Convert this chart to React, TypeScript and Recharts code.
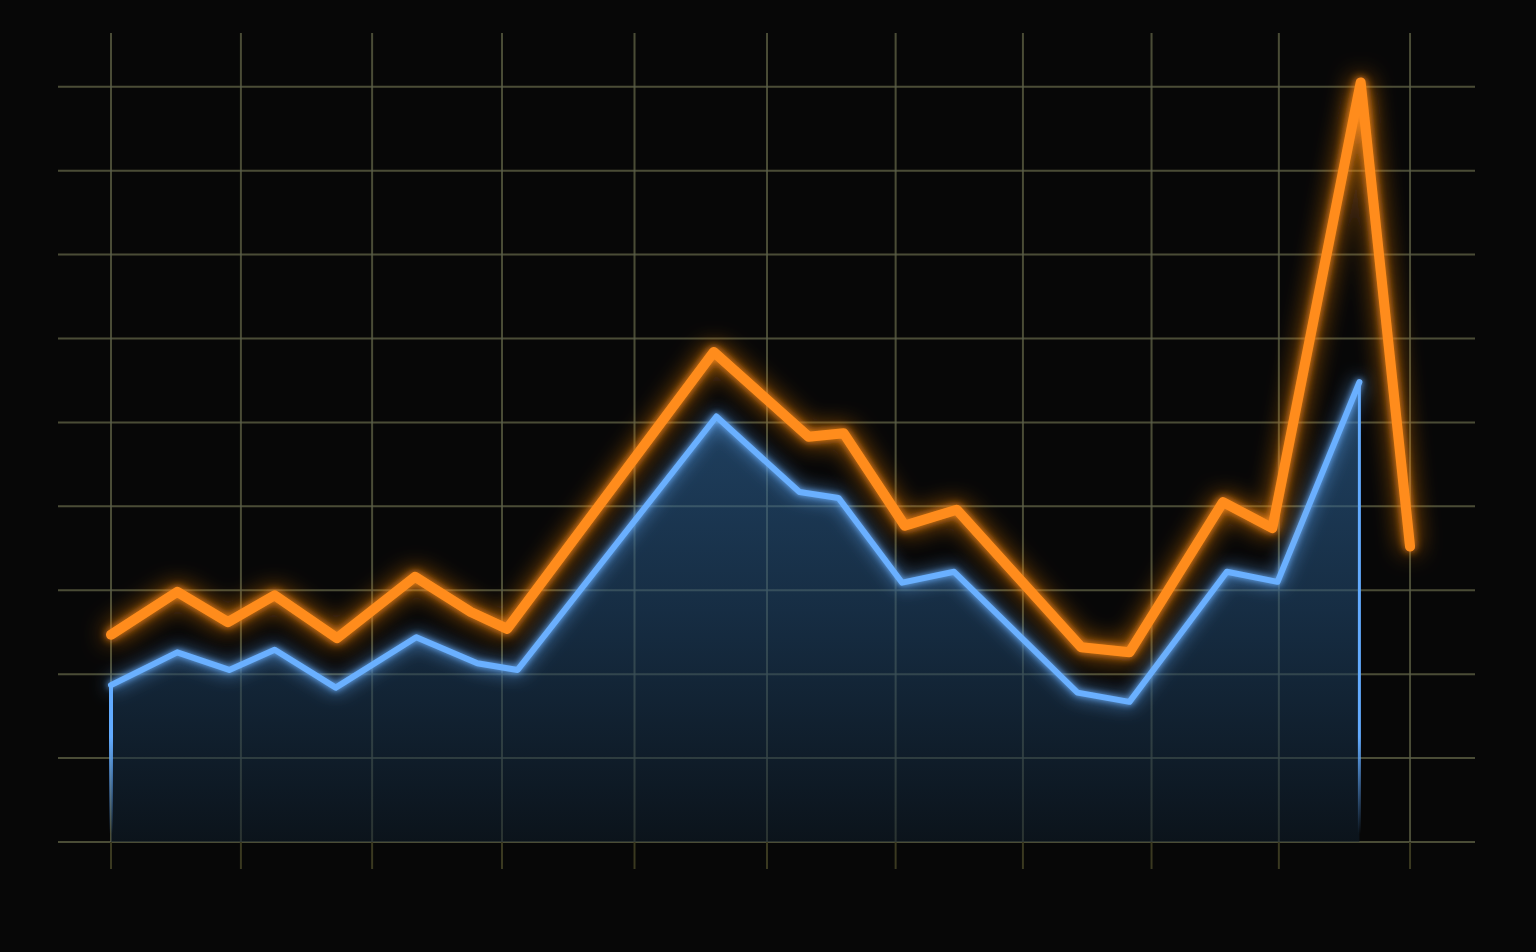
import React from 'react';
import { ComposedChart, Area, Line, XAxis, YAxis, CartesianGrid, ReferenceLine } from 'recharts';

// orange series (x position, value)
const orangeX = [0, 0.51, 0.9, 1.26, 1.74, 2.34, 2.77, 3.05, 4.64, 5.37, 5.64, 6.11, 6.51, 7.47, 7.84, 8.56, 8.94, 9.62, 10];
const orangeY = [2.47, 2.98, 2.62, 2.94, 2.43, 3.16, 2.74, 2.54, 5.84, 4.83, 4.87, 3.77, 3.96, 2.32, 2.26, 4.05, 3.74, 9.05, 3.52];

// blue series (x position, value)
const blueX = [0, 0.51, 0.91, 1.26, 1.73, 2.35, 2.82, 3.13, 4.66, 5.3, 5.6, 6.09, 6.49, 7.44, 7.84, 8.59, 8.98, 9.61];
const blueY = [1.87, 2.26, 2.05, 2.29, 1.84, 2.44, 2.13, 2.05, 5.07, 4.17, 4.1, 3.09, 3.22, 1.78, 1.67, 3.22, 3.1, 5.48];

const xTicks = [0, 1, 2.01, 3.01, 4.03, 5.05, 6.04, 7.02, 8.01, 8.99, 10];
const yTicks = [0, 1, 2, 3, 4, 5, 6, 7, 8, 9];

const orange = orangeX.map((x, i) => ({ x, v: orangeY[i] }));
const blue = blueX.map((x, i) => ({ x, v: blueY[i] }));

const GRID = '#3a3920';
const last = blue.length - 1;

export default function App() {
  return (
    <div style={{ position: 'fixed', left: 0, top: 0, width: 1536, height: 952, background: '#070707' }}>
      <ComposedChart
        width={1536}
        height={952}
        margin={{ top: 33, right: 61, left: 58, bottom: 83 }}
      >
        <defs>
          <linearGradient id="blueFill" x1="0" y1="0" x2="0" y2="1">
            <stop offset="0%" stopColor="#3676b4" stopOpacity={0.9} />
            <stop offset="50%" stopColor="#234d76" stopOpacity={0.9} />
            <stop offset="100%" stopColor="#0f1e2c" stopOpacity={0.9} />
          </linearGradient>
          <linearGradient id="edgeFade" gradientUnits="userSpaceOnUse" x1="0" y1="33" x2="0" y2="842">
            <stop offset="87%" stopColor="#62abff" stopOpacity={1} />
            <stop offset="99%" stopColor="#62abff" stopOpacity={0} />
          </linearGradient>
          <filter id="glowO" filterUnits="userSpaceOnUse" x="0" y="0" width="1536" height="952">
            <feGaussianBlur in="SourceGraphic" stdDeviation="4" result="b1" />
            <feGaussianBlur in="SourceGraphic" stdDeviation="12" result="b2" />
            <feMerge>
              <feMergeNode in="b2" />
              <feMergeNode in="b1" />
              <feMergeNode in="SourceGraphic" />
            </feMerge>
          </filter>
          <filter id="glowB" filterUnits="userSpaceOnUse" x="0" y="0" width="1536" height="952">
            <feGaussianBlur in="SourceGraphic" stdDeviation="3" result="b1" />
            <feGaussianBlur in="SourceGraphic" stdDeviation="9" result="b2" />
            <feMerge>
              <feMergeNode in="b2" />
              <feMergeNode in="b1" />
              <feMergeNode in="SourceGraphic" />
            </feMerge>
          </filter>
        </defs>
        <CartesianGrid stroke={GRID} strokeWidth={2} syncWithTicks />
        <XAxis
          dataKey="x"
          type="number"
          domain={[-0.408, 10.5]}
          ticks={xTicks}
          interval={0}
          allowDataOverflow
          axisLine={false}
          tickLine={{ stroke: GRID, strokeWidth: 2 }}
          tickSize={27}
          tickFormatter={() => ''}
          height={27}
        />
        <YAxis type="number" domain={[0, 9.64]} ticks={yTicks} hide allowDataOverflow />
        <Area
          data={blue}
          dataKey="v"
          type="linear"
          stroke="none"
          fill="url(#blueFill)"
          baseValue={0}
          isAnimationActive={false}
        />
        <CartesianGrid stroke="#8a9a90" strokeOpacity={0.2} strokeWidth={2} syncWithTicks />
        <ReferenceLine
          segment={[{ x: blue[0].x, y: 0 }, { x: blue[0].x, y: blue[0].v }]}
          stroke="url(#edgeFade)"
          strokeWidth={4}
        />
        <ReferenceLine
          segment={[{ x: blue[last].x, y: 0 }, { x: blue[last].x, y: blue[last].v }]}
          stroke="url(#edgeFade)"
          strokeWidth={3}
        />
        <Line
          data={blue}
          dataKey="v"
          type="linear"
          stroke="#6ab0ff"
          strokeWidth={6}
          strokeLinejoin="round"
          strokeLinecap="round"
          dot={false}
          activeDot={false}
          filter="url(#glowB)"
          isAnimationActive={false}
        />
        <Line
          data={orange}
          dataKey="v"
          type="linear"
          stroke="#ff8c1c"
          strokeWidth={10}
          strokeLinejoin="round"
          strokeLinecap="round"
          dot={false}
          activeDot={false}
          filter="url(#glowO)"
          isAnimationActive={false}
        />
      </ComposedChart>
    </div>
  );
}
